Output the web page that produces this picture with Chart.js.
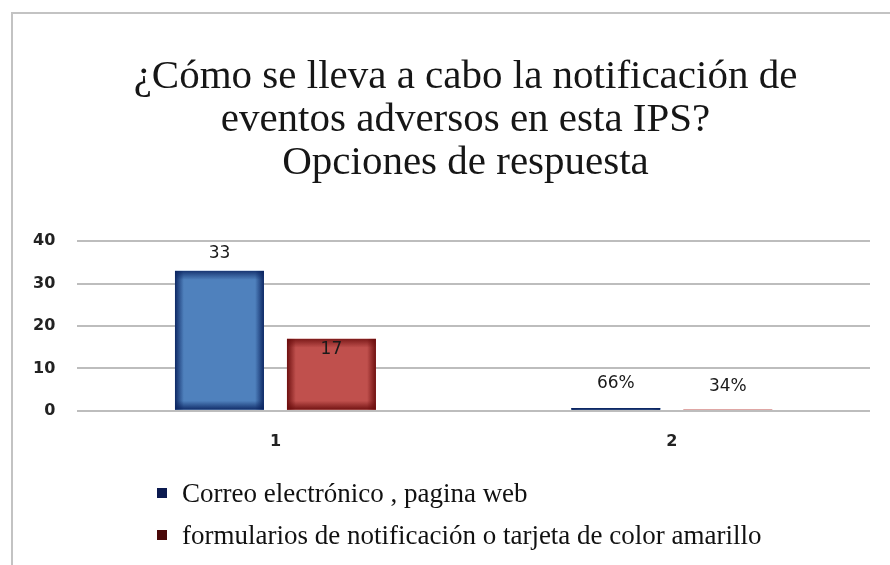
<!DOCTYPE html>
<html>
<head>
<meta charset="utf-8">
<script src="https://cdn.jsdelivr.net/npm/chart.js@4"></script>
<style>
  html, body { margin: 0; padding: 0; background: #fff; }
  body { width: 890px; height: 565px; position: relative; overflow: hidden; }
  #frame {
    position: absolute; left: 11px; top: 12px; width: 920px; height: 600px;
    border-left: 2px solid #c3c3c3; border-top: 2px solid #c3c3c3;
  }
  #wrap { position: absolute; left: 0; top: 0; width: 890px; height: 476px; }
  #legend {
    position: absolute; left: 157px; top: 472px;
    font-family: "Liberation Serif", serif; font-size: 27px; color: #111;
  }
  #legend .item { display: flex; align-items: center; height: 42px; }
  #legend .box { width: 10px; height: 10px; margin-right: 15px; }
</style>
</head>
<body>
<div id="frame"></div>
<div id="wrap"><canvas id="chart"></canvas></div>
<div id="legend"></div>

<script>
// ============================================
// DATA
// ============================================

const titleLines = [
    "¿Cómo se lleva a cabo la notificación de",
    "eventos adversos en esta IPS?",
    "Opciones de respuesta"
];

const categories = ["1", "2"];

const seriesNames = [
    "Correo electrónico , pagina web",
    "formularios de notificación o tarjeta de color amarillo"
];

const correoValues = [33, 0.66];
const formularioValues = [17, 0.34];

const correoLabels = ["33", "66%"];
const formularioLabels = ["17", "34%"];

const yTicks = [0, 10, 20, 30, 40];


// ============================================
// STYLE
// ============================================

const fillColors = ["#4f81bd", "#c0504d"];
const edgeColors = ["10,35,95", "105,12,12"];
const legendColors = ["#0b1a4f", "#4a0808"];

// label offset from bar top, per dataset / point
const labelOffsets = [[-17, -24], [11, -23]];


// ============================================
// BAR SHADING + VALUE LABELS
// ============================================

const barDecor = {
    id: "barDecor",

    // the original title sits a bit right of the canvas centre
    afterLayout(chart) {
        if (chart.titleBlock) {
            chart.titleBlock.left += 50;
        }
    },

    afterDatasetsDraw(chart) {
        const ctx = chart.ctx;
        const allLabels = [correoLabels, formularioLabels];

        chart.data.datasets.forEach(function (ds, di) {
            const meta = chart.getDatasetMeta(di);

            meta.data.forEach(function (bar, i) {
                const left = bar.x - bar.width / 2;
                const top = Math.min(bar.y, bar.base);
                const h = Math.abs(bar.base - bar.y);
                const w = bar.width;
                const edge = edgeColors[di];

                if (h > 1) {
                    ctx.save();
                    ctx.beginPath();
                    ctx.rect(left, top, w, h);
                    ctx.clip();

                    let g = ctx.createLinearGradient(left, 0, left + w, 0);
                    g.addColorStop(0, "rgba(" + edge + ",0.95)");
                    g.addColorStop(0.1, "rgba(" + edge + ",0)");
                    g.addColorStop(0.9, "rgba(" + edge + ",0)");
                    g.addColorStop(1, "rgba(" + edge + ",0.95)");
                    ctx.fillStyle = g;
                    ctx.fillRect(left, top, w, h);

                    let gt = ctx.createLinearGradient(0, top, 0, top + 9);
                    gt.addColorStop(0, "rgba(" + edge + ",0.8)");
                    gt.addColorStop(1, "rgba(" + edge + ",0)");
                    ctx.fillStyle = gt;
                    ctx.fillRect(left, top, w, 9);

                    let gb = ctx.createLinearGradient(0, top + h - 9, 0, top + h);
                    gb.addColorStop(0, "rgba(" + edge + ",0)");
                    gb.addColorStop(1, "rgba(" + edge + ",0.9)");
                    ctx.fillStyle = gb;
                    ctx.fillRect(left, top + h - 9, w, 9);

                    ctx.restore();
                }

                ctx.save();
                ctx.font = "17px 'DejaVu Sans'";
                ctx.fillStyle = "#1a1a1a";
                ctx.textAlign = "center";
                ctx.textBaseline = "middle";
                ctx.fillText(allLabels[di][i], bar.x, bar.y + labelOffsets[di][i]);
                ctx.restore();
            });
        });
    }
};


// ============================================
// CHART
// ============================================

const chart = new Chart(
    document.getElementById("chart"),
    {
        type: "bar",

        data: {
            labels: categories,

            datasets: [
                {
                    label: seriesNames[0],
                    data: correoValues,
                    backgroundColor: fillColors[0],
                    borderWidth: 0
                },
                {
                    label: seriesNames[1],
                    data: formularioValues,
                    backgroundColor: fillColors[1],
                    borderWidth: 0
                }
            ]
        },

        options: {
            responsive: true,
            maintainAspectRatio: false,
            animation: false,

            categoryPercentage: 0.565,
            barPercentage: 0.795,

            layout: {
                padding: { left: 11, right: 20, top: 10, bottom: 4 }
            },

            plugins: {
                legend: { display: false },
                tooltip: { enabled: false },
                title: {
                    display: true,
                    text: titleLines,
                    color: "#161616",
                    font: { family: "'Liberation Serif', serif", size: 41, weight: "normal", lineHeight: 1.05 },
                    padding: { top: 46, bottom: 56 }
                }
            },

            scales: {
                x: {
                    grid: { display: false, drawTicks: false },
                    border: { display: false },
                    ticks: {
                        color: "#222",
                        padding: 21,
                        font: { family: "'DejaVu Sans'", size: 16, weight: "bold" }
                    }
                },
                y: {
                    min: yTicks[0],
                    max: yTicks[yTicks.length - 1],
                    afterBuildTicks(scale) {
                        scale.ticks = yTicks.map(function (v) { return { value: v }; });
                    },
                    grid: { color: "#bdbdbd", lineWidth: 2, drawTicks: false },
                    border: { display: false },
                    ticks: {
                        color: "#222",
                        padding: 22,
                        font: { family: "'DejaVu Sans'", size: 16, weight: "bold" }
                    }
                }
            }
        },

        plugins: [barDecor]
    }
);


// ============================================
// LEGEND (stacked, like the original)
// ============================================

const legendEl = document.getElementById("legend");

seriesNames.forEach(function (name, i) {
    const row = document.createElement("div");
    row.className = "item";

    const box = document.createElement("span");
    box.className = "box";
    box.style.background = legendColors[i];

    const txt = document.createElement("span");
    txt.textContent = name;

    row.appendChild(box);
    row.appendChild(txt);
    legendEl.appendChild(row);
});
</script>
</body>
</html>
